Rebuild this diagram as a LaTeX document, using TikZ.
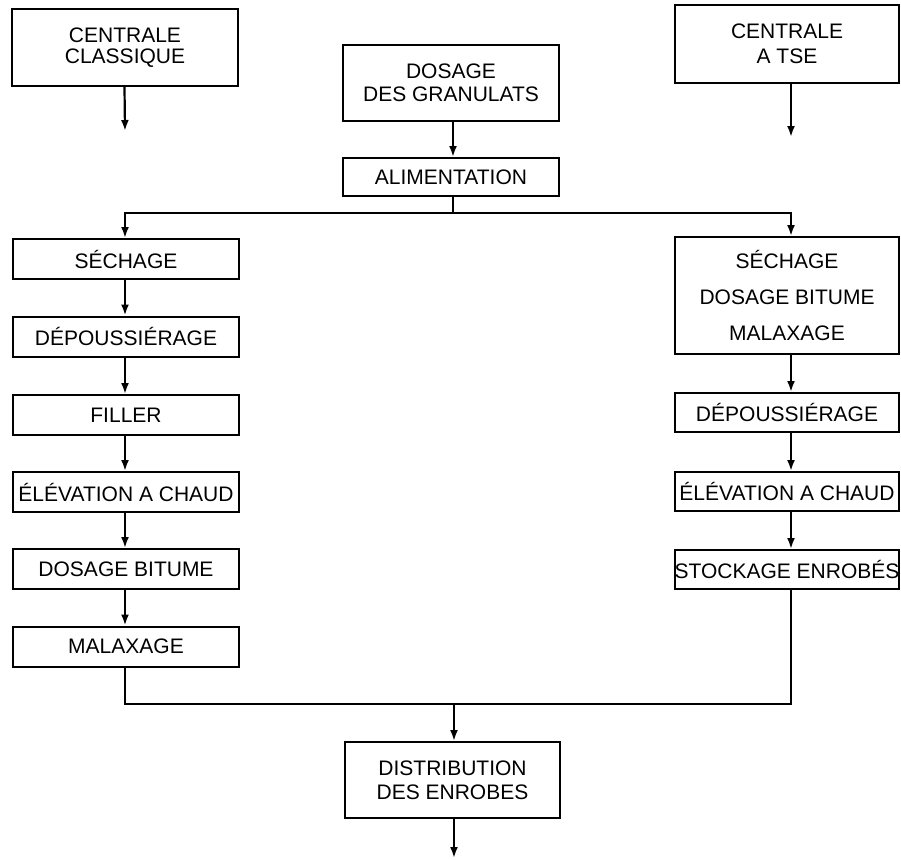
\documentclass[tikz,border=0pt]{standalone}
\usepackage{fontspec}
\setmainfont{Liberation Sans}
\usetikzlibrary{arrows.meta}
\begin{document}
\begin{tikzpicture}[x=1pt,y=-1pt,
  box/.style={draw,line width=2pt,inner sep=0pt,align=center,
    font=\fontsize{21}{24}\selectfont},
  lbox/.style={box,minimum width=226pt,minimum height=40pt},
  rbox/.style={box,minimum width=224pt,minimum height=39pt},
  arr/.style={line width=2.2pt,-{Latex[length=11pt,width=8pt]}},
  ln/.style={line width=2pt}]
\useasboundingbox (0,0) rectangle (901,859);
% top boxes
\node[box,minimum width=226pt,minimum height=77pt,font=\fontsize{21}{21}\selectfont] (cc) at (125,47.5) {CENTRALE\\CLASSIQUE};
\node[box,minimum width=224pt,minimum height=78pt,font=\fontsize{21}{25}\selectfont] (cts) at (787,44) {CENTRALE\\A TSE};
\node[box,minimum width=216pt,minimum height=76pt,font=\fontsize{21}{23}\selectfont] (dg) at (451,83) {DOSAGE\\DES GRANULATS};
\node[box,minimum width=216pt,minimum height=38pt] (al) at (451,177) {ALIMENTATION};
% left column
\node[lbox] (l1) at (126,259) {SÉCHAGE};
\node[lbox] (l2) at (126,336.5) {DÉPOUSSIÉRAGE};
\node[lbox] (l3) at (126,415) {FILLER};
\node[lbox] (l4) at (126,492) {ÉLÉVATION A CHAUD};
\node[lbox] (l5) at (126,569) {DOSAGE BITUME};
\node[lbox] (l6) at (126,646.5) {MALAXAGE};
% right column
\node[box,minimum width=224pt,minimum height=117pt,font=\fontsize{21}{36}\selectfont] (r1) at (787,295.5) {SÉCHAGE\\DOSAGE BITUME\\MALAXAGE};
\node[rbox] (r2) at (787,412.5) {DÉPOUSSIÉRAGE};
\node[rbox] (r3) at (787,491.5) {ÉLÉVATION A CHAUD};
\node[rbox] (r4) at (787,569.5) {STOCKAGE ENROBÉS};
% bottom
\node[box,minimum width=215pt,minimum height=76pt] (dist) at (452.5,780) {DISTRIBUTION\\DES ENROBES};
% free ends and junctions
\coordinate (e1) at (125,131);
\coordinate (e2) at (791,137);
\coordinate (e3) at (454,858);
\coordinate (j1) at (453,213);
\coordinate (j2) at (454,704);
% connectors
\draw[arr] ([xshift=-0.5pt]cc.south) -- (e1);
\draw[arr] ([xshift=4pt]cts.south) -- (e2);
\draw[arr] ([xshift=2pt]dg.south) -- ([xshift=2pt]al.north);
\draw[ln] ([xshift=2pt]al.south) -- (j1);
\draw[arr] (j1) -| ([xshift=-1pt]l1.north);
\draw[arr] (j1) -| ([xshift=4pt]r1.north);
\draw[arr] ([xshift=-1pt]l1.south) -- ([xshift=-1pt]l2.north);
\draw[arr] ([xshift=-1pt]l2.south) -- ([xshift=-1pt]l3.north);
\draw[arr] ([xshift=-1pt]l3.south) -- ([xshift=-1pt]l4.north);
\draw[arr] ([xshift=-1pt]l4.south) -- ([xshift=-1pt]l5.north);
\draw[arr] ([xshift=-1pt]l5.south) -- ([xshift=-1pt]l6.north);
\draw[arr] ([xshift=4pt]r1.south) -- ([xshift=4pt]r2.north);
\draw[arr] ([xshift=4pt]r2.south) -- ([xshift=4pt]r3.north);
\draw[arr] ([xshift=4pt]r3.south) -- ([xshift=4pt]r4.north);
\draw[ln] ([xshift=-1pt]l6.south) |- (j2);
\draw[ln] ([xshift=4pt]r4.south) |- (j2);
\draw[arr] (j2) -- ([xshift=1.5pt]dist.north);
\draw[arr] ([xshift=1.5pt]dist.south) -- (e3);
\end{tikzpicture}
\end{document}
